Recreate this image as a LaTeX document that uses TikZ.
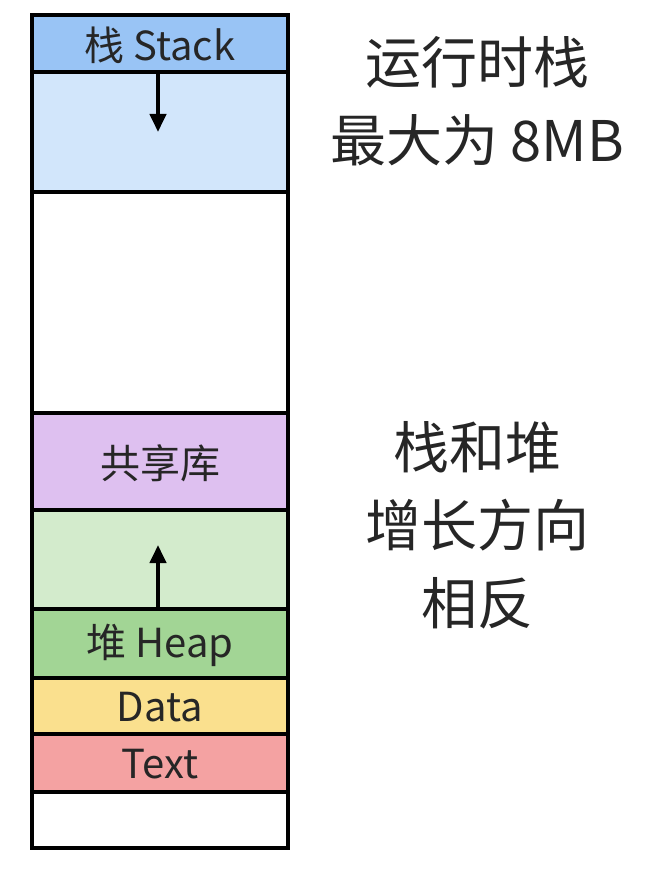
\documentclass[tikz,border=0pt]{standalone}
\usepackage{fontspec}
\setmainfont{Noto Sans CJK SC}
\usetikzlibrary{arrows.meta}
\definecolor{stackc}{HTML}{99C4F5}
\definecolor{stacklt}{HTML}{D2E6FB}
\definecolor{libc}{HTML}{DEC0F0}
\definecolor{heaplt}{HTML}{D3EBCC}
\definecolor{heapc}{HTML}{A2D595}
\definecolor{datac}{HTML}{FAE08E}
\definecolor{textc}{HTML}{F4A2A2}
\tikzset{seg/.style={draw=black,line width=4pt},
lbl/.style={font=\fontsize{40}{44}\selectfont,text=black!85},
side/.style={font=\fontsize{56}{78}\selectfont,align=center,text=black!85},
growarrow/.style={line width=4pt,-{Triangle[length=18pt,width=16pt]}}}
\begin{document}
\begin{tikzpicture}[x=1pt,y=-1pt]
\useasboundingbox (0,0) rectangle (664,877);
\fill[white] (0,0) rectangle (664,877);
\filldraw[seg,fill=stackc] (32,15) rectangle (288,72);
\filldraw[seg,fill=stacklt] (32,72) rectangle (288,192);
\filldraw[seg,fill=white] (32,192) rectangle (288,413);
\filldraw[seg,fill=libc] (32,413) rectangle (288,510);
\filldraw[seg,fill=heaplt] (32,510) rectangle (288,609);
\filldraw[seg,fill=heapc] (32,609) rectangle (288,678);
\filldraw[seg,fill=datac] (32,678) rectangle (288,734);
\filldraw[seg,fill=textc] (32,734) rectangle (288,792);
\filldraw[seg,fill=white] (32,792) rectangle (288,848);
\node[lbl] (stack) at (160,45) {栈 Stack};
\node[lbl] (lib) at (160,463) {共享库};
\node[lbl] (heap) at (160,645) {堆 Heap};
\node[lbl] (data) at (160,707) {Data};
\node[lbl] (text) at (160,764) {Text};
\coordinate (sa) at (158,72);
\coordinate (sb) at (158,132);
\coordinate (ha) at (158,609);
\coordinate (hb) at (158,545);
\draw[growarrow] (sa) -- (sb);
\draw[growarrow] (ha) -- (hb);
\node[side] (t1) at (477,101) {运行时栈\\最大为 8MB};
\node[side] (t2) at (477,525) {栈和堆\\增长方向\\相反};
\end{tikzpicture}
\end{document}
